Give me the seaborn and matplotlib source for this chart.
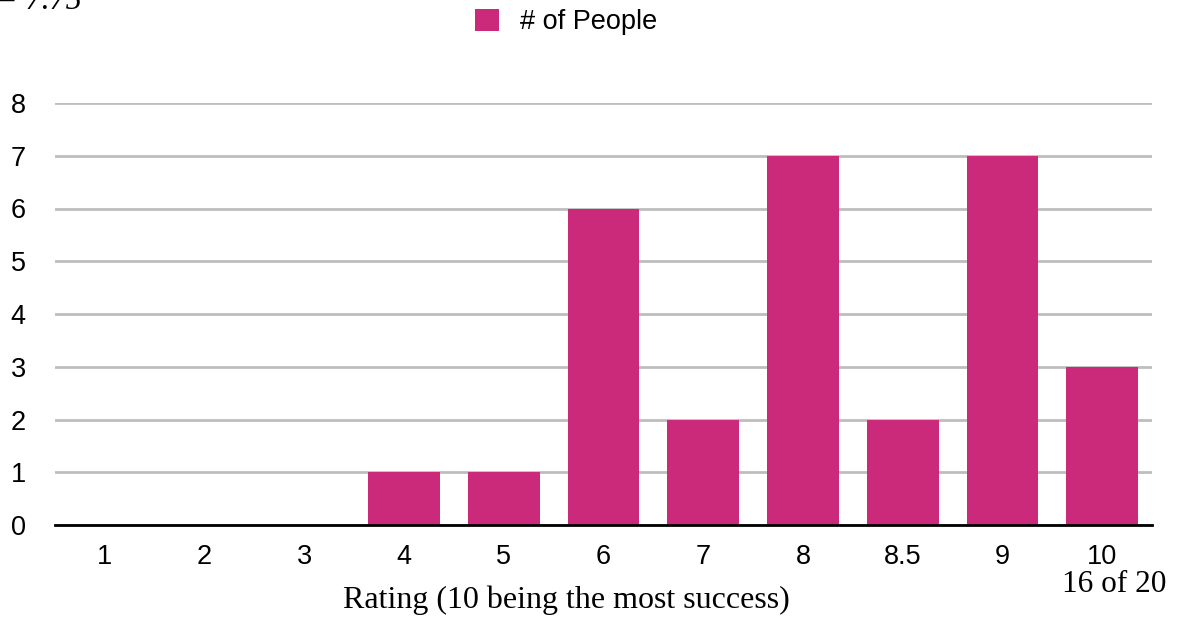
import matplotlib
matplotlib.use("Agg")
import matplotlib.pyplot as plt
import seaborn as sns
import pandas as pd

# Survey results: how many people gave each rating
ratings = ["1", "2", "3", "4", "5", "6", "7", "8", "8.5", "9", "10"]
people = [0, 0, 0, 1, 1, 6, 2, 7, 2, 7, 3]
series_name = "# of People"
y_ticks = [0, 1, 2, 3, 4, 5, 6, 7, 8]

df = pd.DataFrame({"Rating": ratings, series_name: people})

sns.set_theme(style="white")
plt.rcParams["font.family"] = ["Liberation Sans", "DejaVu Sans"]
plt.rcParams["text.color"] = "black"

W, H, DPI = 1178, 618, 100
fig = plt.figure(figsize=(W / DPI, H / DPI), dpi=DPI)
# axes box in pixel coordinates: left 55, right 1152, top 103 (y=8), bottom 525 (y=0)
ax = fig.add_axes([55 / W, 1 - 525 / H, (1152 - 55) / W, (525 - 103) / H])

bar_color = "#CB2A7B"
sns.barplot(data=df, x="Rating", y=series_name, color=bar_color, width=0.72,
            saturation=1, linewidth=0, ax=ax, label=series_name, zorder=3)

ax.set_ylim(0, 8)
ax.set_xlim(-0.5, len(ratings) - 0.5)
ax.set_yticks(y_ticks)
ax.set_yticklabels([str(t) for t in y_ticks])
ax.yaxis.grid(True, color="#BDBDBD", linewidth=2, zorder=0)
ax.xaxis.grid(False)
for side in ["top", "right", "left"]:
    ax.spines[side].set_visible(False)
ax.spines["bottom"].set_color("black")
ax.spines["bottom"].set_linewidth(2)
ax.spines["bottom"].set_zorder(4)
ax.tick_params(axis="both", length=0, labelsize=19.5, colors="black")
ax.tick_params(axis="y", pad=32)
ax.tick_params(axis="x", pad=14)
for lbl in ax.get_yticklabels():
    lbl.set_horizontalalignment("left")
ax.set_xlabel("")
ax.set_ylabel("")

# legend centered above the plot
handles, labels = ax.get_legend_handles_labels()
if ax.get_legend() is not None:
    ax.get_legend().remove()
leg = fig.legend(handles, labels, loc="center", bbox_to_anchor=(566 / W, 1 - 22 / H),
                 frameon=False, fontsize=19.5, handlelength=0.9, handleheight=0.9,
                 handletextpad=0.75)
for t in leg.get_texts():
    t.set_color("black")

# axis title and page annotations in serif
serif = ["Liberation Serif", "DejaVu Serif"]
fig.text(566 / W, 1 - 600 / H, "Rating (10 being the most success)", family=serif,
         fontsize=23, ha="center", va="center", color="black")
fig.text(1114 / W, 1 - 585 / H, "16 of 20", family=serif, fontsize=22.5,
         ha="center", va="center", color="black")
fig.text(-4 / W, 1 - 9 / H, "= 7.75", family=serif, style="italic", fontsize=23,
         ha="left", va="baseline", color="black")

fig.savefig("out.png", dpi=DPI)
